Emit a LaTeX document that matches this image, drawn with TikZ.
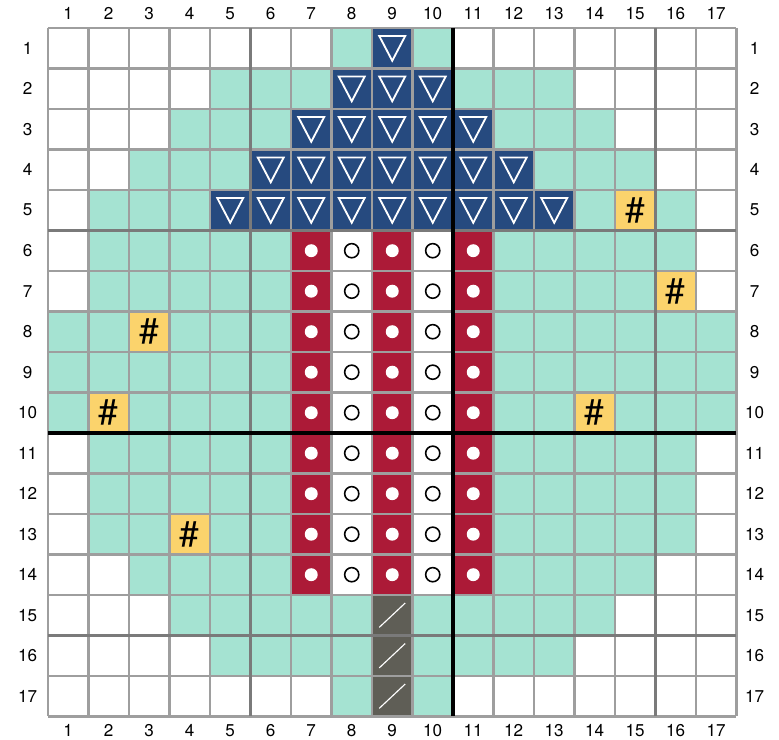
\documentclass[tikz,border=0pt]{standalone}
\usepackage{fontspec}
\setmainfont{TeX Gyre Heros}
\usetikzlibrary{calc}
\definecolor{chartmint}{RGB}{165,227,210}
\definecolor{chartblue}{RGB}{38,74,127}
\definecolor{chartred}{RGB}{172,26,55}
\definecolor{chartyellow}{RGB}{251,211,108}
\definecolor{chartslate}{RGB}{95,94,86}
\definecolor{gridgrey}{RGB}{158,158,158}
\definecolor{griddark}{RGB}{122,122,122}
\tikzset{
  gridline/.style={draw=gridgrey, line width=1.5pt},
  gridmajor/.style={draw=griddark, line width=1.5pt},
  centreline/.style={draw=black, line width=2.2pt},
  triangleline/.style={draw=white, line width=1.3pt, line join=miter},
  dotmark/.style={fill=white},
  ringmark/.style={draw=black, line width=1.1pt},
  slashmark/.style={draw=white, line width=0.8pt},
  hashlabel/.style={inner sep=0pt, font=\fontsize{25}{25}\selectfont},
  numlabel/.style={inner sep=0pt, font=\fontsize{12}{14}\selectfont}
}
\begin{document}
\begin{tikzpicture}[x=1cm,y=-1cm]
  \useasboundingbox (-1.185,-0.69) rectangle (18.05,17.56);

  % background of the chart, row by row
  \foreach \r/\a/\b in {1/8/10,2/5/13,3/4/14,4/3/15,5/2/16,6/2/16,7/2/16,8/1/17,9/1/17,
                        10/1/17,11/2/16,12/2/16,13/2/16,14/3/15,15/4/14,16/5/13,17/8/10}
    \fill[chartmint] (\a-1,\r-1) rectangle (\b,\r);

  % blue top
  \foreach \r/\a/\b in {1/9/9,2/8/10,3/7/11,4/6/12,5/5/13}
    \fill[chartblue] (\a-1,\r-1) rectangle (\b,\r);

  % striped body
  \foreach \r in {6,...,14} {
    \foreach \c in {7,9,11}
      \fill[chartred] (\c-1,\r-1) rectangle (\c,\r);
    \foreach \c in {8,10}
      \fill[white] (\c-1,\r-1) rectangle (\c,\r);
  }

  % stem
  \fill[chartslate] (8,14) rectangle (9,17);

  % yellow cells
  \foreach \c/\r in {15/5,16/7,3/8,2/10,14/10,4/13}
    \fill[chartyellow] (\c-1,\r-1) rectangle (\c,\r);

  % grid
  \foreach \i in {0,...,17} {
    \draw[gridline] (\i,0) -- (\i,17);
    \draw[gridline] (0,\i) -- (17,\i);
  }
  \foreach \i in {5,15} {
    \draw[gridmajor] (\i,0) -- (\i,17);
    \draw[gridmajor] (0,\i) -- (17,\i);
  }
  \draw[centreline] (10,0) -- (10,17);
  \draw[centreline] (0,10) -- (17,10);

  % symbols
  \foreach \r/\a/\b in {1/9/9,2/8/10,3/7/11,4/6/12,5/5/13}
    \foreach \c in {\a,...,\b}
      \draw[triangleline] ($(\c-0.5,\r-0.5)+(-0.32,-0.3)$) -- ++(0.64,0)
        -- ($(\c-0.5,\r-0.5)+(0,0.31)$) -- cycle;
  \foreach \r in {6,...,14} {
    \foreach \c in {7,9,11}
      \fill[dotmark] (\c-0.5,\r-0.5) circle (0.16);
    \foreach \c in {8,10}
      \draw[ringmark] (\c-0.5,\r-0.5) circle (0.175);
  }
  \foreach \r in {15,16,17}
    \draw[slashmark] (8.18,\r-0.2) -- (8.82,\r-0.8);
  \foreach \c/\r in {15/5,16/7,3/8,2/10,14/10,4/13}
    \node[hashlabel] (hash-\c-\r) at (\c-0.5,\r-0.5) {\#};

  % numbering round the chart
  \foreach \i in {1,...,17} {
    \node[numlabel] (top-\i) at (\i-0.5,-0.35) {\i};
    \node[numlabel] (bottom-\i) at (\i-0.5,17.35) {\i};
    \node[numlabel] (left-\i) at (-0.5,\i-0.5) {\i};
    \node[numlabel] (right-\i) at (17.45,\i-0.5) {\i};
  }
\end{tikzpicture}
\end{document}
